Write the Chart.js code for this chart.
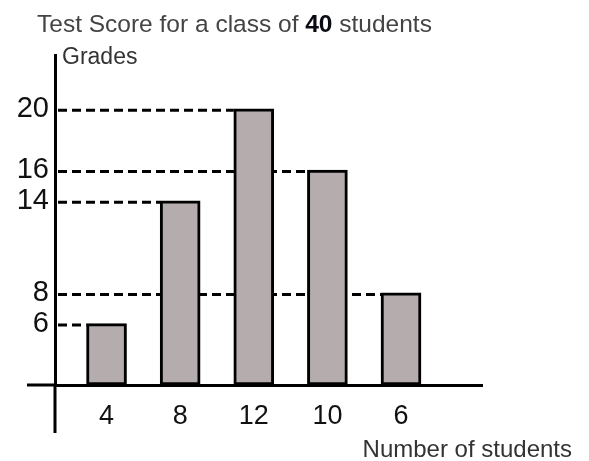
<!DOCTYPE html>
<html>
<head>
<meta charset="utf-8">
<script src="https://cdn.jsdelivr.net/npm/chart.js@4.4.1/dist/chart.umd.min.js"></script>
<style>
  html, body { margin: 0; padding: 0; background: #fff; }
  #wrap { width: 589px; height: 461px; }
</style>
</head>
<body>
<div id="wrap"><canvas id="c" width="589" height="461"></canvas></div>
<script>
// ---- data ----
const categories = ['4', '8', '12', '10', '6'];     // x labels (Number of students)
const grades = [6, 14, 20, 16, 8];                   // bar values (Grades)
const yTickValues = [6, 8, 14, 16, 20];              // labelled grade ticks
const titleStart = 'Test Score for a class of ';
const titleBold = '40';
const titleEnd = ' students';
const yAxisLabel = 'Grades';
const xAxisLabel = 'Number of students';

const FONT = '"Liberation Sans", Arial, Helvetica, sans-serif';
const Y_MIN = 2, Y_MAX = 23.5;

const decor = {
  id: 'decor',
  beforeDatasetsDraw(chart) {
    const { ctx, chartArea } = chart;
    const meta = chart.getDatasetMeta(0);
    ctx.save();
    ctx.strokeStyle = '#000';
    ctx.lineWidth = 3;
    ctx.setLineDash([9, 5]);
    meta.data.forEach(bar => {
      const p = bar.getProps(['x', 'y', 'width'], true);
      const y = p.y + 1.5;
      ctx.beginPath();
      ctx.moveTo(chartArea.left + 3, y);
      ctx.lineTo(p.x - p.width / 2, y);
      ctx.stroke();
    });
    ctx.restore();
  },
  afterDraw(chart) {
    const { ctx, chartArea } = chart;
    ctx.save();
    // axis extensions (crossing axes)
    ctx.strokeStyle = '#000';
    ctx.lineWidth = 3;
    ctx.beginPath();
    ctx.moveTo(chartArea.left - 28, chartArea.bottom);
    ctx.lineTo(chartArea.left, chartArea.bottom);
    ctx.moveTo(chartArea.left, chartArea.bottom);
    ctx.lineTo(chartArea.left, chartArea.bottom + 48);
    ctx.stroke();

    // title with bold number
    ctx.textBaseline = 'alphabetic';
    ctx.textAlign = 'left';
    let x = 37;
    const ty = 32;
    ctx.font = '24.5px ' + FONT;
    ctx.fillStyle = '#444';
    ctx.fillText(titleStart, x, ty);
    x += ctx.measureText(titleStart).width;
    ctx.font = 'bold 24.5px ' + FONT;
    ctx.fillStyle = '#0a0a14';
    ctx.fillText(titleBold, x, ty);
    x += ctx.measureText(titleBold).width;
    ctx.font = '24.5px ' + FONT;
    ctx.fillStyle = '#444';
    ctx.fillText(titleEnd, x, ty);

    // axis names
    ctx.font = '23px ' + FONT;
    ctx.fillStyle = '#333';
    ctx.fillText(yAxisLabel, chartArea.left + 7, 64);
    ctx.font = '24px ' + FONT;
    ctx.textAlign = 'right';
    ctx.fillText(xAxisLabel, 572, 457);
    ctx.restore();
  }
};

new Chart(document.getElementById('c'), {
  type: 'bar',
  data: {
    datasets: [{
      data: categories.map((c, i) => ({ x: i + 1, y: grades[i] })),
      backgroundColor: '#b5adad',
      borderColor: '#000',
      borderWidth: 3,
      borderSkipped: false,
      barThickness: 40,
      base: Y_MIN
    }]
  },
  options: {
    responsive: false,
    animation: false,
    devicePixelRatio: 1,
    layout: { padding: { left: 0, right: 107, top: 55, bottom: 0 } },
    plugins: { legend: { display: false }, tooltip: { enabled: false }, title: { display: false } },
    scales: {
      x: {
        type: 'linear',
        offset: false,
        min: 0.3,
        max: 6.1,
        grid: { display: false, drawTicks: false },
        border: { display: true, color: '#000', width: 3 },
        afterBuildTicks(scale) { scale.ticks = categories.map((c, i) => ({ value: i + 1 })); },
        afterFit(scale) { scale.height = 76; },
        ticks: {
          autoSkip: false,
          padding: 15,
          color: '#111',
          font: { family: FONT, size: 27 },
          callback: (v) => categories[v - 1]
        }
      },
      y: {
        type: 'linear',
        min: Y_MIN,
        max: Y_MAX,
        beginAtZero: false,
        grid: { display: false, drawTicks: false },
        border: { display: true, color: '#000', width: 3 },
        afterBuildTicks(scale) { scale.ticks = yTickValues.map(v => ({ value: v })); },
        afterFit(scale) { scale.width = 55; },
        ticks: {
          autoSkip: false,
          padding: 6,
          color: '#111',
          font: { family: FONT, size: 29 }
        }
      }
    }
  },
  plugins: [decor]
});
</script>
</body>
</html>
